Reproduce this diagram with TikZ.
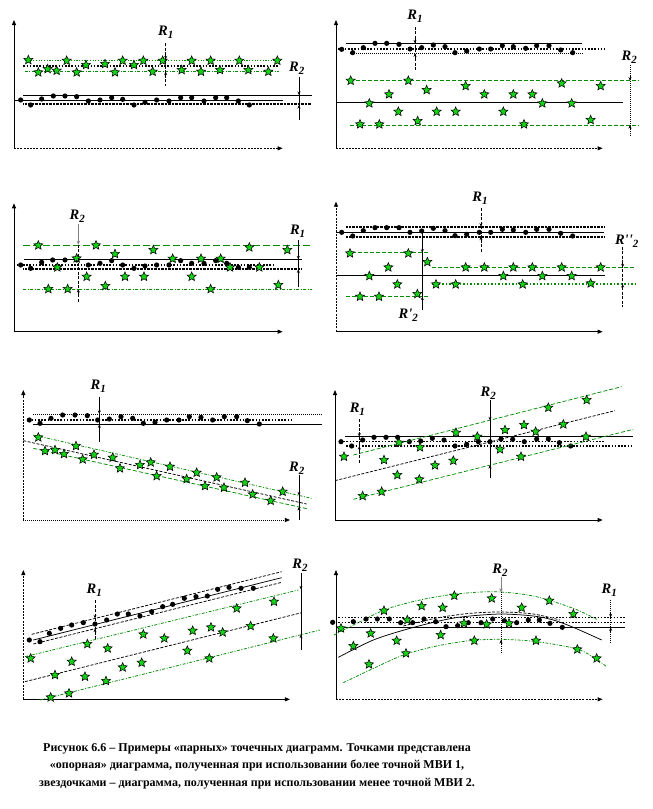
\documentclass[tikz,border=0pt]{standalone}
\usepackage{fontspec}
\setmainfont{Liberation Serif}
\newfontfamily\timesfont{Liberation Serif}
\usetikzlibrary{shapes.geometric,arrows.meta}
\definecolor{starg}{RGB}{20,210,20}
\definecolor{lineg}{RGB}{0,140,0}
\tikzset{
 ax/.style={line width=0.8pt,-{Triangle[length=5pt,width=4pt]}},
 axd/.style={ax,dash pattern=on 2pt off 1.2pt},
 axdot/.style={ax,dash pattern=on 1pt off 1pt},
 blk/.style={line width=0.75pt},
 blkd/.style={line width=0.75pt,dash pattern=on 3pt off 1.5pt},
 dotb/.style={line width=1.6pt,dash pattern=on 1.6pt off 1.6pt},
 dott/.style={line width=0.75pt,dash pattern=on 1pt off 1pt},
 hatch/.style={line width=1.8pt,dash pattern=on 0.7pt off 0.7pt},
 gdash/.style={lineg,line width=0.75pt,dash pattern=on 4pt off 2pt},
 gldash/.style={lineg,line width=0.85pt,dash pattern=on 7pt off 3pt},
 gdd/.style={lineg,line width=0.75pt,dash pattern=on 3pt off 1.5pt on 1pt off 1.5pt},
 gdot/.style={lineg,line width=1pt,dash pattern=on 1.2pt off 1.5pt},
 gdotb/.style={lineg,line width=1.5pt,dash pattern=on 1.5pt off 2pt},
 strn/.style={star,star points=5,star point ratio=2.2,minimum size=9.5pt,inner sep=0pt,draw=black,line width=0.55pt,fill=starg},
 dotn/.style={circle,fill=black,inner sep=0pt,minimum size=5.2pt},
 rlab/.style={font=\timesfont\fontsize{14.5}{14.5}\selectfont\bfseries\itshape,inner sep=0pt},
 rarr/.style={line width=0.6pt,-{Stealth[length=3.5pt,width=3pt]}},
 garr/.style={gray,line width=1pt,-{Stealth[length=4pt,width=3.5pt]}},
 pan/.style={x=0.33333pt,y=-0.33333pt},
}
\newcommand{\Rsub}[2]{#1\raisebox{-3pt}{\fontsize{11}{11}\selectfont #2}}
\newcommand{\Rtips}[3]{\draw[rarr] (#1,#2-14) -- (#1,#2); \draw[rarr] (#1,#3+14) -- (#1,#3);}
\begin{document}
\begin{tikzpicture}[x=1pt,y=-1pt]
\useasboundingbox (0,0) rectangle (653,809);

% ---------------- Panel 1
\begin{scope}[pan]
\draw[ax] (42,445) -- (42,60);
\draw[axd] (42,445) -- (848,445);
\draw[gdot] (75,180) -- (838,180);
\draw[dotb] (70,198) -- (838,198);
\draw[gdd] (75,213) -- (838,213);
\foreach \x/\y [count=\i] in {85/180,200/182,258/195,315/192,368/182,402/195,430/182,488/182,575/182,632/182,718/182,832/182,115/217,143/207,170/212,230/217,345/217,458/215,545/210,603/215,660/210,745/210,805/215}
  \node[strn] (a\i) at (\x,\y) {};
\draw[blk] (70,285) -- (935,285);
\draw[blk] (45,300) -- (848,300);
\draw[hatch] (70,312) -- (935,312);
\foreach \x/\y [count=\i] in {62/300,92/315,125/297,160/288,195/288,230/290,265/303,300/300,335/293,368/298,402/315,435/307,470/300,507/303,542/293,575/293,612/303,647/293,680/293,715/303,748/315}
  \node[dotn] (ad\i) at (\x,\y) {};
\node[rlab] (aR1) at (497,97) {\Rsub{R}{1}};
\draw[blkd] (497,130) -- (497,258);
\Rtips{497}{178}{215}
\node[rlab] (aR2) at (890,205) {\Rsub{R}{2}};
\draw[blk] (897,230) -- (897,360);
\Rtips{897}{285}{315}
\end{scope}

% ---------------- Panel 2
\begin{scope}[xshift=320pt,pan]
\draw[ax] (48,445) -- (48,60);
\draw[axd] (48,445) -- (848,445);
\draw[blk] (78,130) -- (785,130);
\draw[dotb] (55,147) -- (855,147);
\draw[dott] (90,160) -- (790,160);
\foreach \x/\y [count=\i] in {65/148,98/158,130/143,165/130,200/130,237/133,270/147,305/143,340/135,375/140,405/158,440/153,478/147,512/147,547/137,580/140,617/145,650/137,687/137,722/150,758/158}
  \node[dotn] (bd\i) at (\x,\y) {};
\draw[gdash] (90,242) -- (955,242);
\draw[blk] (48,307) -- (910,307);
\draw[gdash] (90,375) -- (955,375);
\foreach \x/\y [count=\i] in {92/242,265/242,320/270,207/283,148/310,235/335,120/373,178/373,293/363,350/335,407/335,437/258,493/283,550/335,580/283,637/283,612/373,667/310,725/250,755/310,812/360,842/258}
  \node[strn] (b\i) at (\x,\y) {};
\node[rlab] (bR1) at (285,50) {\Rsub{R}{1}};
\draw[blkd] (285,80) -- (285,210);
\Rtips{285}{130}{160}
\node[rlab] (bR2) at (928,172) {\Rsub{R}{2}};
\draw[dott] (930,195) -- (930,410);
\Rtips{930}{242}{375}
\end{scope}

% ---------------- Panel 3
\begin{scope}[yshift=-180pt,pan]
\draw[ax] (42,455) -- (42,70);
\draw[ax] (42,455) -- (848,455);
\draw[gldash] (70,196) -- (935,196);
\draw[gdd] (70,327) -- (935,327);
\draw[blk] (72,238) -- (905,238);
\draw[dotb] (50,255) -- (825,255);
\draw[hatch] (70,268) -- (905,268);
\foreach \x/\y [count=\i] in {62/255,92/265,125/247,158/240,195/240,230/240,265/255,300/250,335/242,368/255,402/265,435/258,470/255,507/255,542/242,575/250,612/250,647/242,680/250,715/262,748/262}
  \node[dotn] (cd\i) at (\x,\y) {};
\foreach \x/\y [count=\i] in {115/196,288/196,345/222,460/210,748/202,862/210,230/235,172/262,518/236,603/236,662/236,690/262,778/262,260/290,375/290,432/290,575/290,145/327,203/327,316/318,632/327,835/315}
  \node[strn] (c\i) at (\x,\y) {};
\node[rlab] (cR2) at (232,110) {\Rsub{R}{2}};
\draw[garr] (235,132) -- (235,194);
\draw[blkd] (235,194) -- (235,365);
\draw[rarr] (235,341) -- (235,327);
\node[rlab] (cR1) at (893,155) {\Rsub{R}{1}};
\draw[blk] (895,180) -- (895,320);
\Rtips{895}{238}{268}
\end{scope}

% ---------------- Panel 4
\begin{scope}[xshift=320pt,yshift=-180pt,pan]
\draw[axd] (48,455) -- (48,65);
\draw[ax] (48,455) -- (848,455);
\draw[hatch] (78,140) -- (852,140);
\draw[blk] (48,157) -- (852,157);
\draw[hatch] (78,170) -- (852,170);
\foreach \x/\y [count=\i] in {65/157,98/168,130/152,165/143,200/143,237/143,270/157,305/153,340/145,375/152,405/167,440/163,478/157,512/157,547/148,580/150,617/157,650/148,687/148,722/160,758/168}
  \node[dotn] (dd\i) at (\x,\y) {};
\draw[gdash] (78,218) -- (330,218);
\draw[gdash] (78,350) -- (330,350);
\draw[gdash] (335,262) -- (945,262);
\draw[gdotb] (335,312) -- (945,312);
\draw[blk] (48,287) -- (855,287);
\foreach \x/\y [count=\i] in {90/220,265/220,322/246,205/262,148/288,232/313,120/350,177/350,292/342,348/313,407/313,437/262,493/262,550/288,580/262,637/262,608/313,667/288,725/262,755/288,812/310,842/262}
  \node[strn] (d\i) at (\x,\y) {};
\node[rlab] (dR1) at (480,55) {\Rsub{R}{1}};
\draw[blkd] (483,85) -- (483,215);
\Rtips{483}{140}{170}
\draw[blk] (307,157) -- (307,390);
\Rtips{307}{218}{350}
\node[rlab] (dR2a) at (265,405) {\Rsub{R'}{2}};
\node[rlab] (dR2b) at (920,185) {\Rsub{R''}{2}};
\draw[blkd] (908,200) -- (908,380);
\Rtips{908}{262}{312}
\end{scope}

% ---------------- Panel 5
\begin{scope}[yshift=-360pt,pan]
\draw[axd] (70,480) -- (70,90);
\draw[axdot] (70,480) -- (870,480);
\draw[dott] (100,162) -- (965,162);
\draw[dotb] (85,180) -- (880,180);
\draw[blk] (100,193) -- (965,193);
\foreach \x/\y [count=\i] in {88/180,120/190,153/175,188/165,225/165,262/167,293/180,328/177,363/170,398/175,430/190,465/187,500/180,537/180,568/170,603/172,638/180,673/170,710/170,742/182,778/192}
  \node[dotn] (ed\i) at (\x,\y) {};
\draw[gdd] (100,225) -- (935,415);
\draw[blkd] (70,242) -- (920,432);
\draw[gdash] (100,265) -- (925,447);
\foreach \x/\y [count=\i] in {115/232,135/273,165/270,192/282,228/258,248/298,282/284,338/293,360/325,420/315,452/307,470/348,510/320,560/357,590/338,615/378,650/352,672/383,735/368,758/403,812/422,848/395}
  \node[strn] (e\i) at (\x,\y) {};
\node[rlab] (eR1) at (295,80) {\Rsub{R}{1}};
\draw[blk] (298,110) -- (298,245);
\Rtips{298}{162}{193}
\node[rlab] (eR2) at (890,325) {\Rsub{R}{2}};
\draw[blk] (897,345) -- (897,480);
\Rtips{897}{406}{441}
\end{scope}

% ---------------- Panel 6
\begin{scope}[xshift=320pt,yshift=-360pt,pan]
\draw[ax] (45,480) -- (45,90);
\draw[ax] (45,480) -- (848,480);
\draw[blk] (75,230) -- (940,230);
\draw[dotb] (60,245) -- (852,245);
\draw[dotb] (78,258) -- (940,258);
\foreach \x/\y [count=\i] in {63/245,95/258,128/240,162/232,198/232,233/232,268/245,302/243,337/235,372/240,405/258,440/253,475/245,510/245,543/237,578/238,613/245,650/237,685/237,718/248,752/258}
  \node[dotn] (fd\i) at (\x,\y) {};
\draw[gdash] (100,285) -- (905,80);
\draw[blkd] (45,362) -- (885,152);
\draw[gdash] (100,418) -- (940,208);
\foreach \x/\y [count=\i] in {72/290,128/408,185/395,192/300,232/345,237/248,298/358,300/262,345/316,400/302,408/218,472/230,540/268,555/210,603/290,612/195,647/215,685/143,730/193,798/230,800/120}
  \node[strn] (f\i) at (\x,\y) {};
\node[rlab] (fR1) at (112,148) {\Rsub{R}{1}};
\draw[blkd] (118,178) -- (118,310);
\Rtips{118}{230}{258}
\node[rlab] (fR2) at (505,100) {\Rsub{R}{2}};
\draw[blk] (510,120) -- (510,355);
\Rtips{510}{181}{315}
\end{scope}

% ---------------- Panel 7
\begin{scope}[yshift=-540pt,pan]
\draw[axd] (70,478) -- (70,90);
\draw[ax] (70,478) -- (870,478);
\draw[blkd] (95,283) -- (845,95);
\draw[blk] (100,300) -- (845,113);
\draw[blkd] (100,312) -- (845,127);
\foreach \x/\y [count=\i] in {88/300,120/305,148/280,182/265,215/255,250/248,285/252,320/240,352/222,385/222,420/228,455/215,488/200,518/193,553/175,588/170,622/168,653/148,687/142,723/145,760/145}
  \node[dotn] (gd\i) at (\x,\y) {};
\draw[gdd] (75,350) -- (895,150);
\draw[blkd] (75,425) -- (905,218);
\draw[gdd] (120,480) -- (960,270);
\foreach \x/\y [count=\i] in {92/355,152/472,207/460,165/405,215/365,255/410,262/312,318/423,323/325,368/382,425/368,430/283,493/295,562/332,578/272,628/355,633/262,668/277,710/205,752/258,820/295,822/185}
  \node[strn] (g\i) at (\x,\y) {};
\node[rlab] (gR1) at (283,150) {\Rsub{R}{1}};
\draw[blkd] (285,180) -- (285,300);
\Rtips{285}{235}{266}
\node[rlab] (gR2) at (900,75) {\Rsub{R}{2}};
\draw[blk] (903,100) -- (903,330);
\Rtips{903}{148}{284}
\end{scope}

% ---------------- Panel 8
\begin{scope}[xshift=320pt,yshift=-540pt,pan]
\draw[ax] (48,478) -- (48,90);
\draw[axd] (48,478) -- (848,478);
\draw[dotb] (55,232) -- (915,232);
\draw[dotb] (55,248) -- (915,248);
\draw[blk] (48,262) -- (915,262);
\draw[blk] plot[smooth] coordinates {(55,352) (160,300) (270,265) (380,238) (450,228) (545,222) (640,228) (700,240) (760,262) (845,300)};
\draw[blkd] plot[smooth] coordinates {(250,258) (350,234) (450,220) (545,216) (640,222) (720,240)};
\draw[gdd] plot[smooth] coordinates {(42,285) (120,245) (200,207) (300,180) (400,163) (520,155) (640,168) (760,205) (830,238)};
\draw[gdd] plot[smooth] coordinates {(70,428) (150,390) (250,345) (350,318) (450,302) (540,298) (650,305) (780,330) (860,380)};
\foreach \x/\y [count=\i] in {38/247,100/245,138/237,172/237,208/237,242/248,278/248,312/237,347/245,378/260,413/257,445/248,483/248,518/237,553/242,590/248,625/240,658/240,690/250,727/262}
  \node[dotn] (hd\i) at (\x,\y) {};
\foreach \x/\y [count=\i] in {63/265,100/318,147/373,152/280,192/212,230/302,258/340,262/240,305/198,362/285,368/203,403/167,432/250,463/302,500/253,515/175,567/250,605/203,648/302,688/182,760/222,772/328,830/355}
  \node[strn] (h\i) at (\x,\y) {};
\node[rlab] (hR2) at (540,90) {\Rsub{R}{2}};
\draw[garr] (543,110) -- (543,157);
\draw[dott] (543,157) -- (543,340);
\draw[rarr] (543,314) -- (543,300);
\node[rlab] (hR1) at (868,150) {\Rsub{R}{1}};
\draw[dott] (872,180) -- (872,310);
\Rtips{872}{232}{262}
\end{scope}

% ---------------- Caption
\node[font=\timesfont\fontsize{12}{17.5}\selectfont\bfseries,align=center,inner sep=0pt] (cap) at (257,766)
 {Рисунок 6.6 – Примеры «парных» точечных диаграмм. Точками представлена\\
  «опорная» диаграмма, полученная при использовании более точной МВИ 1,\\
  звездочками – диаграмма, полученная при использовании менее точной МВИ 2.};
\end{tikzpicture}
\end{document}
